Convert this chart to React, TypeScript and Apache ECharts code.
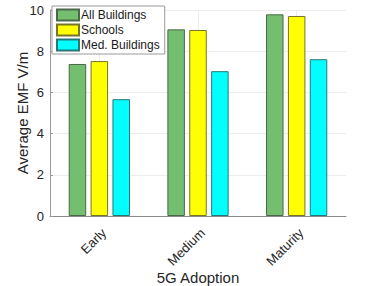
import React, { useEffect, useRef } from "react";
import * as echarts from "echarts";

const categories = ["Early", "Medium", "Maturity"];
const seriesNames = ["All Buildings", "Schools", "Med. Buildings"];
const allBuildings = [7.38, 9.06, 9.79];
const schools = [7.52, 9.03, 9.71];
const medBuildings = [5.67, 7.03, 7.61];
const yTicks = [0, 2, 4, 6, 8, 10];

const fills = ["#73bf6f", "#ffff00", "#00ffff"];
const borders = ["#4a684a", "#75752a", "#267878"];

export default function App() {
  const ref = useRef<HTMLDivElement>(null);
  useEffect(() => {
    if (!ref.current) return;
    const chart = echarts.init(ref.current, undefined, { renderer: "svg" });
    const font = "Liberation Sans, Arial, Helvetica, sans-serif";
    const values = [allBuildings, schools, medBuildings];
    chart.setOption({
      animation: false,
      textStyle: { fontFamily: font },
      grid: { left: 50, right: 36, top: 10, bottom: 70, outerBoundsMode: "none", containLabel: false },
      legend: {
        data: seriesNames,
        left: 52,
        top: 6,
        orient: "vertical",
        icon: "rect",
        itemWidth: 22,
        itemHeight: 11,
        itemGap: 1,
        padding: [2, 5, 2, 4],
        borderColor: "#9a9a9a",
        borderWidth: 1,
        borderRadius: 0,
        backgroundColor: "#ffffff",
        textStyle: { fontSize: 12, lineHeight: 14, color: "#1a1a1a", fontFamily: font, padding: [0, 0, 0, -3] },
        selectedMode: false,
      },
      xAxis: {
        type: "category",
        data: categories,
        name: "5G Adoption",
        nameLocation: "middle",
        nameGap: 54,
        nameMoveOverlap: false,
        nameTextStyle: { fontSize: 15, color: "#262626", fontFamily: font },
        axisLine: { lineStyle: { color: "#8a8a8a", width: 1 } },
        axisTick: { show: false },
        axisLabel: {
          rotate: 45,
          fontSize: 13,
          color: "#262626",
          margin: 10,
          verticalAlign: "top",
          fontFamily: font,
        },
        splitLine: { show: false },
      },
      yAxis: {
        type: "value",
        min: 0,
        max: 10,
        interval: 2,
        name: "Average EMF V/m",
        nameLocation: "middle",
        nameGap: 20,
        nameMoveOverlap: false,
        nameTextStyle: { fontSize: 15, color: "#262626", fontFamily: font },
        axisLine: { show: true, lineStyle: { color: "#9a9a9a", width: 1 } },
        axisTick: { show: true, inside: true, length: 3, lineStyle: { color: "#9a9a9a" } },
        axisLabel: {
          fontSize: 13,
          color: "#262626",
          margin: 6,
          fontFamily: font,
          formatter: (v: number) => (yTicks.includes(v) ? String(v) : ""),
        },
        splitLine: { show: true, lineStyle: { color: "#ececec", width: 1 } },
      },
      series: [
        ...values.map((vals, i) => ({
          name: seriesNames[i],
          type: "bar",
          data: vals,
          barWidth: 17.5,
          barGap: "25%",
          z: 3,
          itemStyle: { color: fills[i], borderColor: borders[i], borderWidth: 1 },
        })),
        {
          name: "grid",
          type: "line",
          data: [],
          z: 1,
          markLine: {
            silent: true,
            symbol: "none",
            z: 1,
            label: { show: false },
            lineStyle: { color: "#ececec", width: 1, type: "solid" },
            data: categories.map((c) => ({ xAxis: c })),
          },
        },
      ],
    });
    return () => chart.dispose();
  }, []);
  return (
    <div
      ref={ref}
      style={{ position: "absolute", left: 0, top: 0, width: 382, height: 286 }}
    />
  );
}
